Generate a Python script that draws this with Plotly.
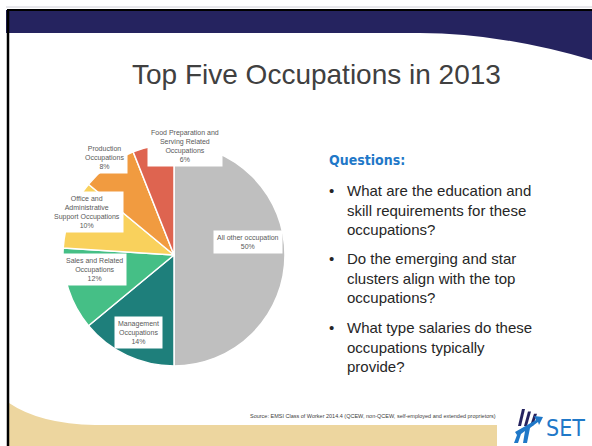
import math
import plotly.graph_objects as go

# ---------------- data ----------------
categories = [
    "All other occupation",
    "Management<br>Occupations",
    "Sales and Related<br>Occupations",
    "Office and<br>Administrative<br>Support Occupations",
    "Production<br>Occupations",
    "Food Preparation and<br>Serving Related<br>Occupations",
]
shares = [50, 14, 12, 10, 8, 6]
slice_colors = ["#BFBFBF", "#1E7F7B", "#45BF86", "#F9D15C", "#F19B40", "#DE6450"]

title_text = "Top Five Occupations in 2013"
questions_head = "Questions:"
questions = [
    "What are the education and<br>skill requirements for these<br>occupations?",
    "Do the emerging and star<br>clusters align with the top<br>occupations?",
    "What type salaries do these<br>occupations typically<br>provide?",
]
source_text = "Source: EMSI Class of Worker 2014.4 (QCEW, non-QCEW, self-employed and extended proprietors)"

# ---------------- geometry helpers ----------------
W, H = 592, 446
def px(x):
    return x / W
def py(y):
    return 1 - y / H

NAVY = "#25235F"
BEIGE = "#EDD69F"
BLUE = "#1F78C8"
COND = "DejaVu Sans Condensed, Roboto, sans-serif"

# pie placement (pixels)
pie_left, pie_right, pie_top, pie_bottom = 63, 285, 144, 366
cx, cy = (pie_left + pie_right) / 2, (pie_top + pie_bottom) / 2
R = (pie_right - pie_left) / 2

fig = go.Figure()
fig.add_trace(go.Pie(
    labels=categories,
    values=shares,
    sort=False,
    direction="clockwise",
    rotation=0,
    marker=dict(colors=slice_colors, line=dict(color="white", width=1.5)),
    textinfo="none",
    hoverinfo="label+percent",
    showlegend=False,
    domain=dict(x=[px(pie_left), px(pie_right)], y=[py(pie_bottom), py(pie_top)]),
))

# label placement derived from slice mid-angles
label_radius = [0.67, 0.8, 0.72, 0.92, 1.12, 1.0]
label_nudge = [(0, -13), (2, -3), (-3, -10), (8, -5), (4, 3), (32, 0)]
total = sum(shares)
annotations = []
cum = 0
for cat, v, rf, (nx, ny) in zip(categories, shares, label_radius, label_nudge):
    mid = (cum + v / 2) / total
    cum += v
    th = 2 * math.pi * mid
    lx = cx + rf * R * math.sin(th) + nx
    ly = cy - rf * R * math.cos(th) + ny
    annotations.append(dict(
        x=px(lx), y=py(ly), xref="paper", yref="paper",
        text=f"{cat}<br>{round(v / total * 100)}%",
        showarrow=False, align="center",
        font=dict(family="Liberation Sans", size=7, color="#595959"),
        bgcolor="white", borderpad=3,
        xanchor="center", yanchor="middle",
    ))

# title
annotations.append(dict(
    x=px(316), y=py(74), xref="paper", yref="paper", text=title_text,
    showarrow=False, xanchor="center", yanchor="middle",
    font=dict(family="Liberation Sans", size=28, color="#404040"),
))
# questions header
annotations.append(dict(
    x=px(327), y=py(160), xref="paper", yref="paper", text=questions_head,
    showarrow=False, xanchor="left", yanchor="middle",
    font=dict(family=COND, size=14, color=BLUE, weight="bold"),
))
q_centers = [209.5, 277.5, 346.5]
for q, yc in zip(questions, q_centers):
    annotations.append(dict(
        x=px(345), y=py(yc), xref="paper", yref="paper", text=q,
        showarrow=False, xanchor="left", yanchor="middle", align="left",
        font=dict(family="Liberation Sans", size=15, color="#262626"),
    ))
    annotations.append(dict(
        x=px(331), y=py(yc - 19.5), xref="paper", yref="paper", text="•",
        showarrow=False, xanchor="center", yanchor="middle",
        font=dict(family="Liberation Sans", size=15, color="#262626"),
    ))
# source
annotations.append(dict(
    x=px(498), y=py(416), xref="paper", yref="paper", text=source_text,
    showarrow=False, xanchor="right", yanchor="middle",
    font=dict(family="Liberation Sans", size=5.5, color="#404040"),
))
# SET logo text
annotations.append(dict(
    x=px(544), y=py(428), xref="paper", yref="paper", text="SET",
    showarrow=False, xanchor="left", yanchor="middle",
    font=dict(family=COND, size=23, color=BLUE),
))

def P(pts, close=True):
    s = "M " + " L ".join(f"{px(x)},{py(y)}" for x, y in pts)
    return s + (" Z" if close else "")

shapes = []
# beige bottom band
shapes.append(dict(type="path", xref="paper", yref="paper",
    path=f"M {px(9)},{py(403)} Q {px(40)},{py(424)} {px(95)},{py(425)} "
         f"L {px(497)},{py(425)} L {px(497)},{py(446)} L {px(9)},{py(446)} Z",
    fillcolor=BEIGE, line=dict(width=0), layer="below"))
# navy top band with curve on right
shapes.append(dict(type="path", xref="paper", yref="paper",
    path=f"M {px(6)},{py(10)} L {px(592)},{py(10)} L {px(592)},{py(60)} "
         f"Q {px(500)},{py(33)} {px(420)},{py(33)} L {px(6)},{py(33)} Z",
    fillcolor=NAVY, line=dict(width=0), layer="below"))
# black border lines
shapes.append(dict(type="line", xref="paper", yref="paper",
    x0=px(7), x1=px(592), y0=py(10), y1=py(10), line=dict(color="black", width=2)))
shapes.append(dict(type="line", xref="paper", yref="paper",
    x0=px(8), x1=px(8), y0=py(10), y1=py(446), line=dict(color="black", width=2.5)))
# faint top line
shapes.append(dict(type="line", xref="paper", yref="paper",
    x0=px(6), x1=px(592), y0=py(7), y1=py(7), line=dict(color="#D0D0D8", width=1)))

# SET logo icon (approximate)
for x0 in (520, 526, 532):
    shapes.append(dict(type="path", xref="paper", yref="paper",
        path=P([(x0 + 2, 409 + (x0 - 520) * 0.4), (x0 + 5, 409 + (x0 - 520) * 0.4),
                (x0 + 1, 426), (x0 - 2, 426)]),
        fillcolor=NAVY, line=dict(width=0)))
shapes.append(dict(type="path", xref="paper", yref="paper",
    path=P([(515, 432), (536, 420), (534, 416), (543, 417), (539, 425), (538, 422),
            (530, 428), (527, 443), (523, 443), (525, 431), (521, 434), (518, 443),
            (514, 443), (517, 435)]),
    fillcolor=BLUE, line=dict(width=0)))

fig.update_layout(
    width=W, height=H,
    margin=dict(l=0, r=0, t=0, b=0),
    paper_bgcolor="white", plot_bgcolor="white",
    annotations=annotations, shapes=shapes,
)
fig.write_html(
    "out.html",
    config={"displayModeBar": False},
    post_script="document.body.style.margin='0';document.body.style.overflow='hidden';",
)
